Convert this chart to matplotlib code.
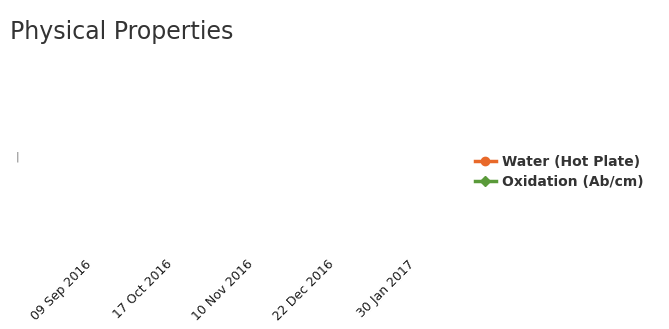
import matplotlib.pyplot as plt
import numpy as np

# Category labels along the x axis
dates = ["09 Sep 2016", "17 Oct 2016", "10 Nov 2016", "22 Dec 2016", "30 Jan 2017"]

# Series values (no readings shown in the chart)
water = [np.nan, np.nan, np.nan, np.nan, np.nan]
oxidation = [np.nan, np.nan, np.nan, np.nan, np.nan]


def main():
	fig = plt.figure(figsize=(6.69, 3.29), dpi=100)
	ax = fig.add_axes([44.5 / 669, 77 / 329, 404 / 669, 180 / 329])

	x = np.arange(len(dates))
	ax.plot(x, water, color="#e8692a", marker="o", markersize=6, linewidth=2.5,
			label="Water (Hot Plate)")
	ax.plot(x, oxidation, color="#5a9a3a", marker="D", markersize=5, linewidth=2.5,
			label="Oxidation (Ab/cm)")

	ax.set_xlim(-0.5, len(dates) - 0.5)
	ax.set_ylim(0, 1)
	ax.set_xticks(x)
	ax.set_xticklabels(dates, rotation=45, ha="right", rotation_mode="anchor",
					   fontsize=9, color="#1a1a1a", family="DejaVu Sans")
	ax.tick_params(axis="x", length=0, pad=4)
	ax.set_yticks([])
	for s in ax.spines.values():
		s.set_visible(False)

	# faint mark at the left edge
	fig.text(17 / 669, 1 - 157 / 329, "|", fontsize=8, color="#777777",
			 ha="center", va="center")

	fig.text(10 / 669, 1 - 32 / 329, "Physical Properties", fontsize=17,
			 color="#333333", family="DejaVu Sans", va="center", ha="left")

	fig.legend(loc="upper left", bbox_to_anchor=(468 / 669, 1 - 148 / 329),
			   frameon=False, prop={"family": "DejaVu Sans", "weight": "bold", "size": 10},
			   handlelength=1.5, handletextpad=0.45, labelspacing=0.4,
			   borderpad=0, labelcolor="#333333")

	fig.savefig("out.png", dpi=100, facecolor="white")


if __name__ == "__main__":
	main()
